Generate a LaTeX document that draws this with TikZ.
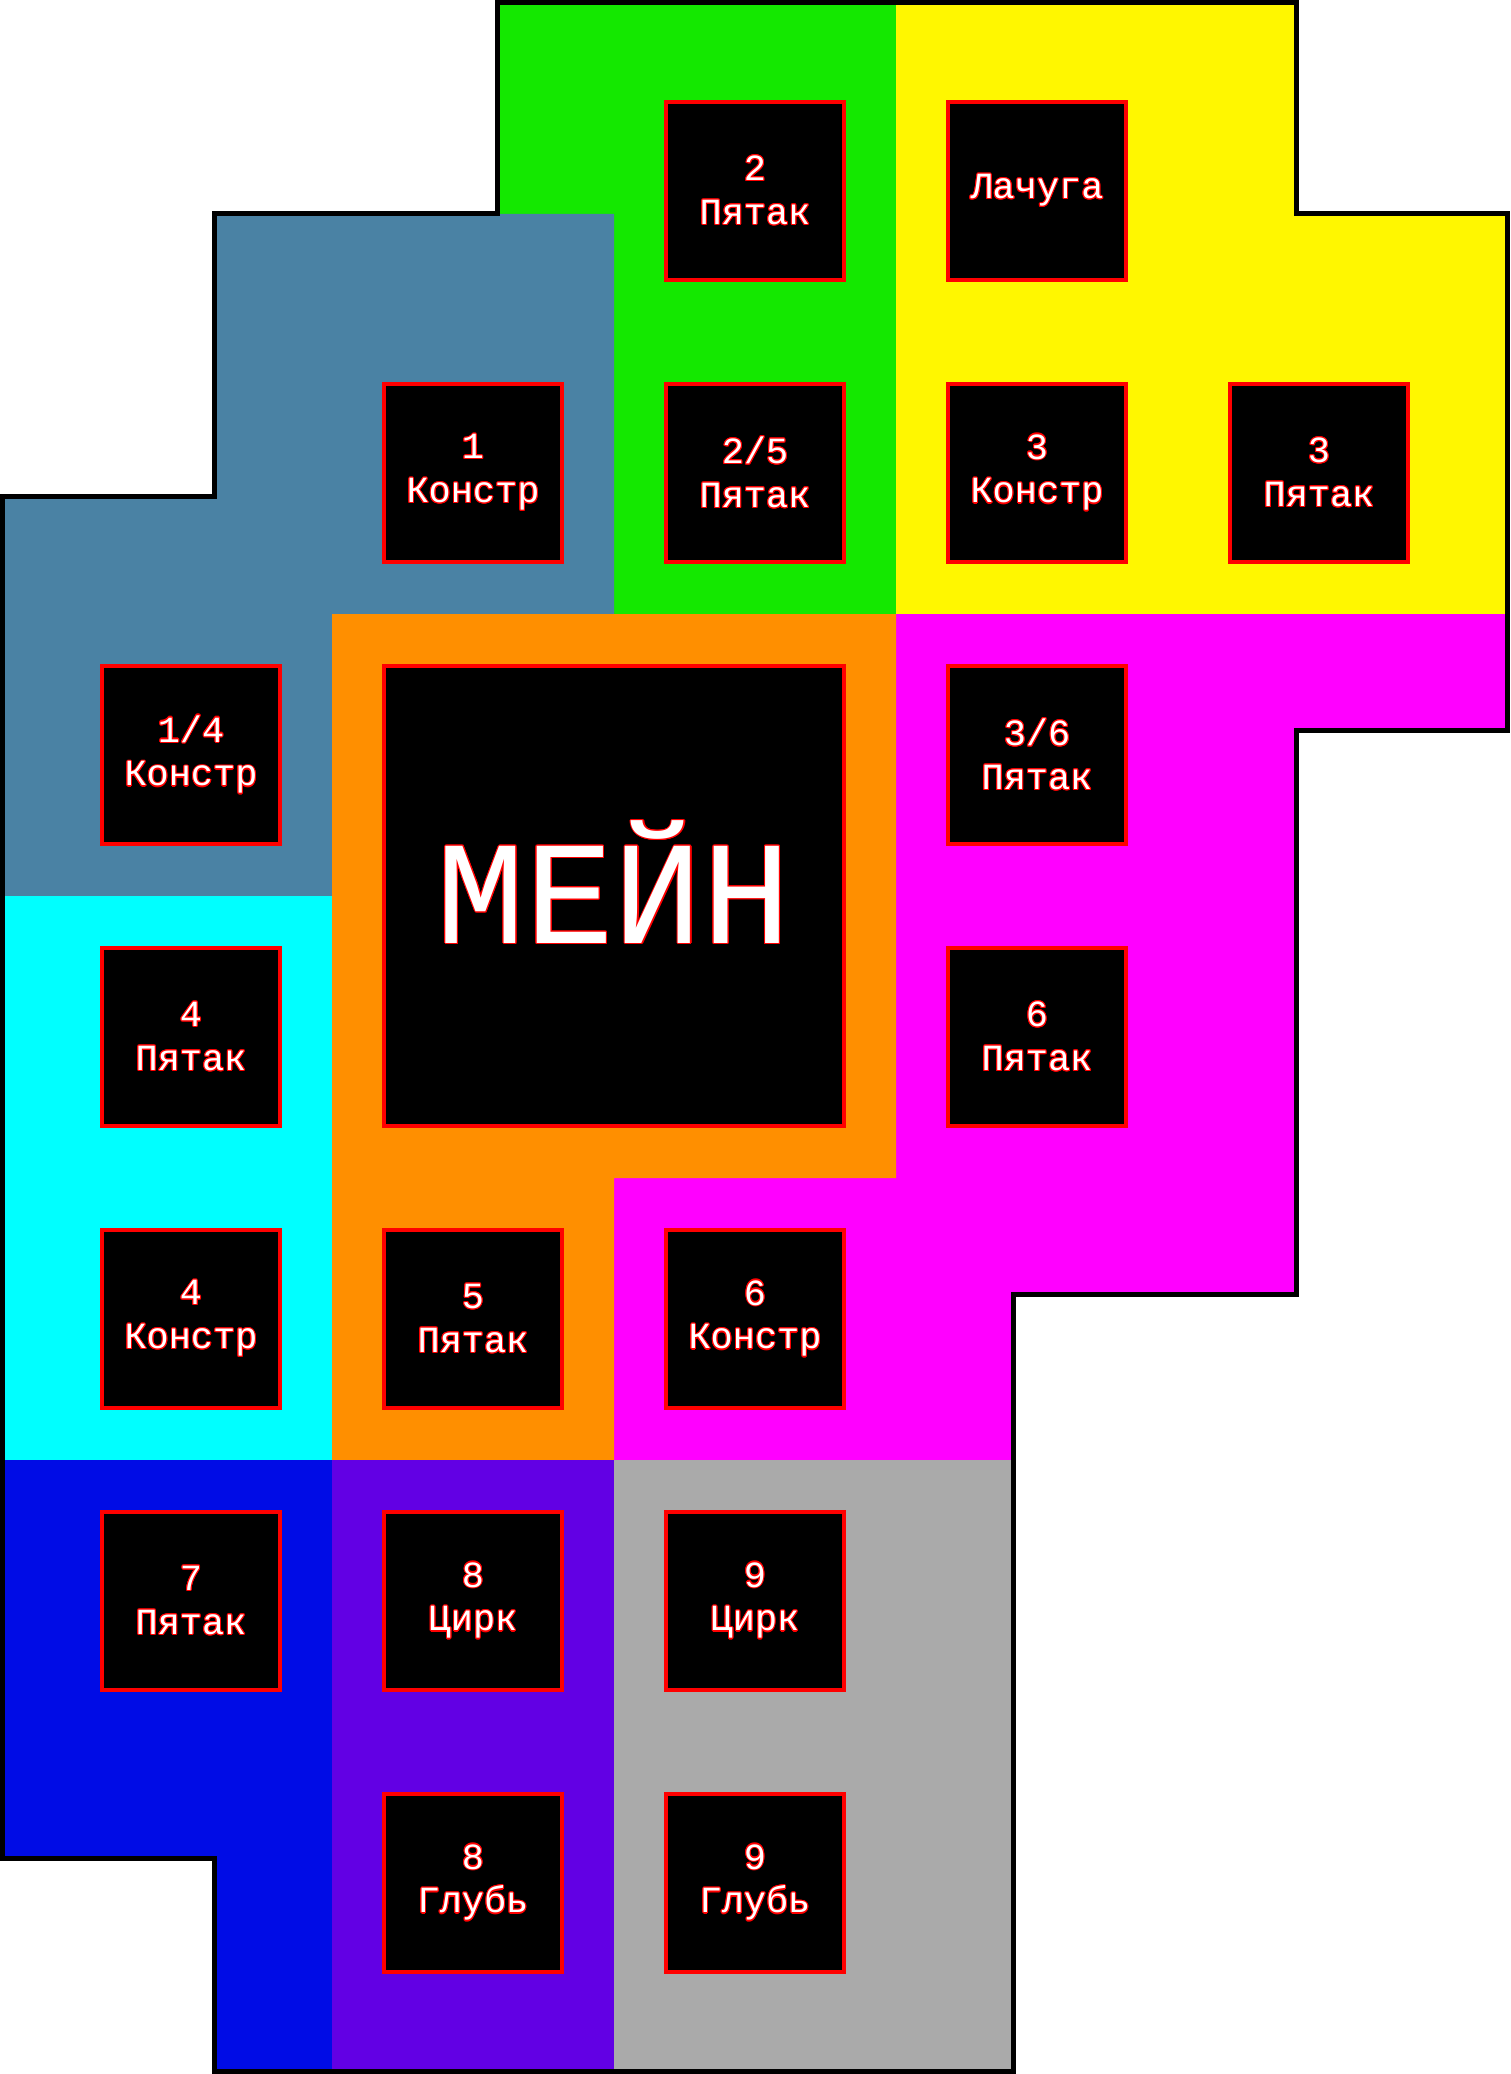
\documentclass[tikz,border=0pt]{standalone}
\usepackage{fontspec}
\setmonofont{Liberation Mono}
\usepackage{contour}
\contourlength{0.3pt}
\usetikzlibrary{positioning}
\definecolor{zonegreen}{RGB}{20,232,0}
\definecolor{zonesteel}{RGB}{74,130,164}
\definecolor{zoneyellow}{RGB}{255,247,0}
\definecolor{zonemagenta}{RGB}{255,0,255}
\definecolor{zoneorange}{RGB}{255,143,0}
\definecolor{zonecyan}{RGB}{0,255,255}
\definecolor{zoneblue}{RGB}{0,12,230}
\definecolor{zonepurple}{RGB}{98,0,228}
\definecolor{zonegray}{RGB}{170,170,170}
\definecolor{roomred}{RGB}{255,0,0}
\tikzset{
  room/.style    ={rectangle, draw=roomred, fill=black, line width=0.4mm,
                   minimum size=1.78cm, inner sep=0pt, align=center, text=white,
                   font=\ttfamily\fontsize{10.5}{12.5}\selectfont},
  mainroom/.style={room, minimum size=4.6cm, font=\ttfamily\fontsize{42}{44}\selectfont},
  border/.style  ={draw=black, line width=0.5mm, line join=miter}
}
\newcommand{\roomlbl}[2]{\contour{roomred}{#1}\\\contour{roomred}{#2}}

\begin{document}
\begin{tikzpicture}[x=0.1mm, y=-0.1mm, node distance=1cm]
\useasboundingbox (0,0) rectangle (1510,2074);
% zones
\fill[zonegreen] (497,2.5) -- (896,2.5) -- (896,614) -- (614,614) -- (614,214) -- (497,214) -- cycle;
\fill[zonesteel] (214,214) -- (614,214) -- (614,614) -- (332,614) -- (332,896) -- (2.5,896) -- (2.5,496) -- (214,496) -- cycle;
\fill[zoneyellow] (896,2.5) -- (1296,2.5) -- (1296,214) -- (1507.5,214) -- (1507.5,614) -- (896,614) -- cycle;
\fill[zonemagenta] (896,614) -- (1507.5,614) -- (1507.5,730) -- (1296,730) -- (1296,1294) -- (1013,1294) -- (1013,1460) -- (614,1460) -- (614,1178) -- (896,1178) -- cycle;
\fill[zoneorange] (332,614) -- (896,614) -- (896,1178) -- (614,1178) -- (614,1460) -- (332,1460) -- cycle;
\fill[zonecyan] (2.5,896) rectangle (332,1460);
\fill[zoneblue] (2.5,1460) -- (332,1460) -- (332,2071) -- (214,2071) -- (214,1858) -- (2.5,1858) -- cycle;
\fill[zonepurple] (332,1460) rectangle (614,2071);
\fill[zonegray] (614,1460) rectangle (1013,2071);
% outline
\draw[border] (497,2.5) -- (1296,2.5) -- (1296,214) -- (1507.5,214) -- (1507.5,730) -- (1296,730)
  -- (1296,1294) -- (1013,1294) -- (1013,2071) -- (214,2071) -- (214,1858) -- (2.5,1858)
  -- (2.5,496) -- (214,496) -- (214,214) -- (497,214) -- cycle;

% rooms
\node[room] (p2) at (755,191) {\roomlbl{2}{Пятак}};
\node[room, right=of p2] (lachuga) {\contour{roomred}{Лачуга}};
\node[room, below=of p2] (p25) {\roomlbl{2/5}{Пятак}};
\node[room, left=of p25] (k1) {\roomlbl{1}{Констр}};
\node[room, right=of p25] (k3) {\roomlbl{3}{Констр}};
\node[room, right=of k3] (p3) {\roomlbl{3}{Пятак}};
\node[room, below left=1cm and 1cm of k1] (k14) {\roomlbl{1/4}{Констр}};
\node[room, below=of k3] (p36) {\roomlbl{3/6}{Пятак}};
\node[room, below=of k14] (p4) {\roomlbl{4}{Пятак}};
\node[room, below=of p36] (p6) {\roomlbl{6}{Пятак}};
\node[room, below=of p4] (k4) {\roomlbl{4}{Констр}};
\node[room, right=of k4] (p5) {\roomlbl{5}{Пятак}};
\node[room, right=of p5] (k6) {\roomlbl{6}{Констр}};
\node[room, below=of k4] (p7) {\roomlbl{7}{Пятак}};
\node[room, below=of p5] (c8) {\roomlbl{8}{Цирк}};
\node[room, below=of k6] (c9) {\roomlbl{9}{Цирк}};
\node[room, below=of c8] (g8) {\roomlbl{8}{Глубь}};
\node[room, below=of c9] (g9) {\roomlbl{9}{Глубь}};
\node[mainroom] (main) at (614,895.5) {\contour{roomred}{\smash{МЕЙН}}\vphantom{М}};
\end{tikzpicture}
\end{document}
